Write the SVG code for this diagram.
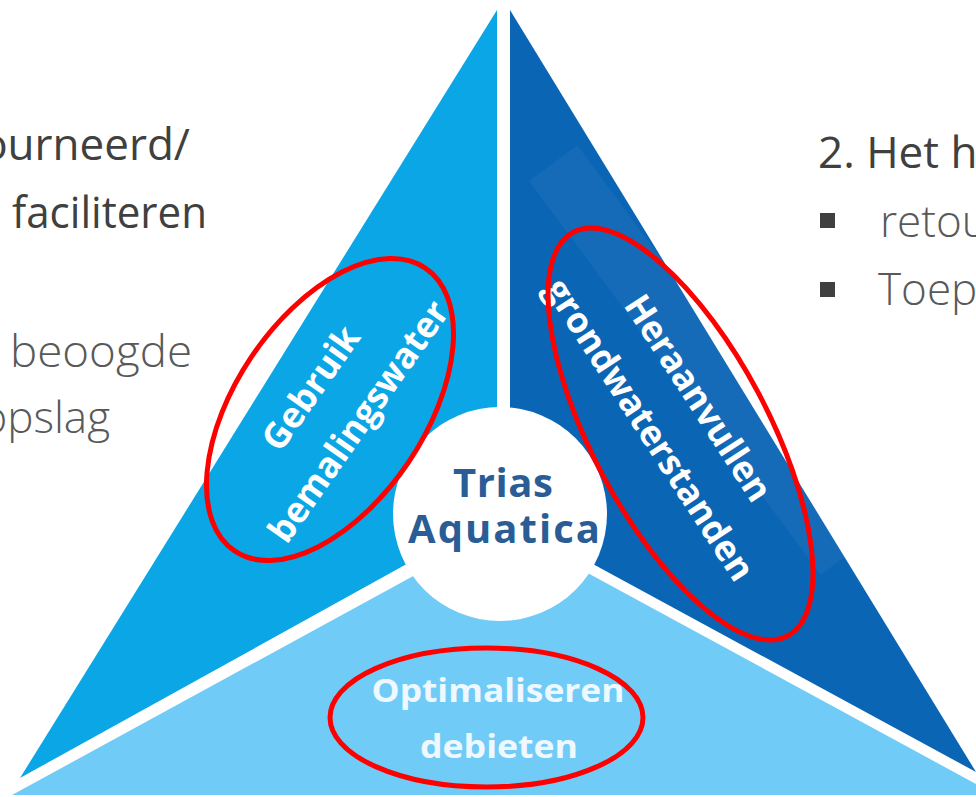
<svg xmlns="http://www.w3.org/2000/svg" width="976" height="797" viewBox="0 0 976 797">
  <style>
    .side { font-family: "Open Sans", "Noto Sans", "Liberation Sans", sans-serif; font-size: 44px; fill: #404040; }
    .light { font-weight: 300; fill: #595959; }
    .lbl { font-family: "Open Sans", "Liberation Sans", sans-serif; font-weight: 700; font-size: 36px; fill: #ffffff; text-anchor: middle; }
    .lbl2 { font-family: "Open Sans", "Liberation Sans", sans-serif; font-weight: 700; font-size: 33px; fill: #eef8fe; text-anchor: middle; }
    .hub { font-family: "Open Sans", "Liberation Sans", sans-serif; font-weight: 700; font-size: 40px; fill: #2a5d95; text-anchor: middle; }
    .ring { fill: none; stroke: #ff0000; stroke-width: 5; }
  </style>
  <rect width="976" height="797" fill="#ffffff"/>

  <g id="side-text-left">
    <text class="side" x="190" y="160" text-anchor="end">ourneerd/</text>
    <text class="side" x="12" y="228" textLength="195" lengthAdjust="spacingAndGlyphs">faciliteren</text>
    <text class="side light" x="10" y="367" textLength="182" lengthAdjust="spacingAndGlyphs">beoogde</text>
    <text class="side light" x="110" y="433" text-anchor="end">opslag</text>
  </g>

  <g id="side-text-right">
    <text class="side" x="818" y="168">2. Het h</text>
    <rect x="820" y="213" width="15" height="15" fill="#404040"/>
    <rect x="820" y="282" width="15" height="15" fill="#404040"/>
    <text class="side light" x="880" y="237">retou</text>
    <text class="side light" x="878" y="305">Toep</text>
  </g>

  <g id="segment-left">
    <polygon points="497,10 497,514 20,778" fill="#0aa6e6"/>
  </g>
  <g id="segment-right">
    <polygon points="510,10 976,772 510,519" fill="#0b65b5"/>
    <rect x="-245" y="-30" width="490" height="60" fill="#ffffff" opacity="0.045" transform="translate(699,360) rotate(53.5)"/>
  </g>
  <g id="segment-bottom">
    <polygon points="503,527 976,784 976,795 12,795" fill="#70ccf6"/>
  </g>

  <g id="hub">
    <circle cx="500" cy="514" r="107" fill="#ffffff"/>
    <text class="hub" x="503" y="497" textLength="100" lengthAdjust="spacing">Trias</text>
    <text class="hub" x="504" y="543" textLength="192" lengthAdjust="spacing">Aquatica</text>
  </g>

  <g id="label-gebruik">
    <g transform="translate(335,405) rotate(-55)">
      <text class="lbl" x="0" y="-17" textLength="142" lengthAdjust="spacingAndGlyphs">Gebruik</text>
      <text class="lbl" x="0" y="41" textLength="285" lengthAdjust="spacingAndGlyphs">bemalingswater</text>
    </g>
    <ellipse class="ring" cx="330" cy="409.5" rx="170.6" ry="94.6" transform="rotate(-56 330 409.5)"/>
  </g>

  <g id="label-heraanvullen">
    <g transform="translate(674.5,413.5) rotate(57)">
      <text class="lbl" x="0" y="-16" textLength="238" lengthAdjust="spacingAndGlyphs">Heraanvullen</text>
      <text class="lbl" x="0" y="42" textLength="352" lengthAdjust="spacingAndGlyphs">grondwaterstanden</text>
    </g>
    <ellipse class="ring" cx="680.5" cy="434" rx="228.5" ry="88" transform="rotate(62 680.5 434)"/>
  </g>

  <g id="label-optimaliseren">
    <text class="lbl2" x="498" y="702" textLength="253" lengthAdjust="spacingAndGlyphs">Optimaliseren</text>
    <text class="lbl2" x="499" y="758" textLength="158" lengthAdjust="spacingAndGlyphs">debieten</text>
    <ellipse class="ring" cx="486.5" cy="717.5" rx="156.5" ry="69.5"/>
  </g>

  <g id="connectors"></g>
</svg>
